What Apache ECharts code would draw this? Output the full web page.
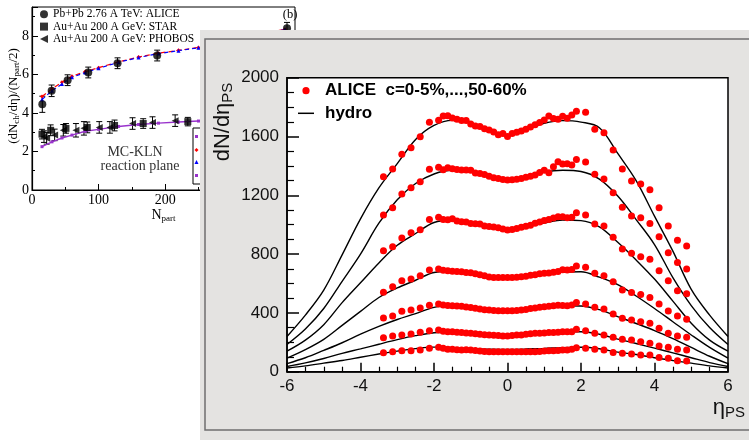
<!DOCTYPE html>
<html>
<head>
<meta charset="utf-8">
<script src="https://cdn.jsdelivr.net/npm/echarts/dist/echarts.min.js"></script>
<style>
  html, body { margin: 0; padding: 0; background: #fff; }
  #left { position: absolute; left: 0; top: 0; width: 749px; height: 440px; }
  #main { position: absolute; left: 200px; top: 30px; width: 549px; height: 410px; }
</style>
</head>
<body>
<div id="left"></div>
<div id="main"></div>
<script>
// ---------- main panel: ALICE dN/deta vs eta ----------
const etaPoints = [-3.375, -3.125, -2.875, -2.625, -2.375, -2.125, -1.875,
  -1.75, -1.625, -1.5, -1.375, -1.25, -1.125, -1.0, -0.875, -0.75, -0.625,
  -0.5, -0.375, -0.25, -0.125, 0, 0.125, 0.25, 0.375, 0.5, 0.625, 0.75,
  0.875, 1.0, 1.125, 1.25, 1.375, 1.5, 1.625, 1.75,
  1.875, 2.125, 2.375, 2.625, 2.875, 3.125, 3.375, 3.625, 3.875, 4.125, 4.375, 4.625, 4.875];

const alice0_5 = [1327, 1379, 1479, 1524, 1599, 1697, 1710,
  1740, 1742, 1726, 1718, 1708, 1708, 1685, 1672, 1668, 1652, 1644, 1630, 1612, 1620,
  1600, 1620, 1629, 1638, 1650, 1665, 1680, 1695, 1712, 1740, 1722, 1718, 1738, 1724, 1746,
  1771, 1765, 1649, 1626, 1508, 1379, 1297, 1277, 1238, 1116, 991, 894, 855];
const alice5_10 = [1066, 1116, 1209, 1252, 1293, 1377, 1390,
  1374, 1388, 1380, 1375, 1372, 1372, 1370, 1352, 1348, 1342, 1330, 1320, 1314, 1308,
  1304, 1305, 1309, 1315, 1322, 1330, 1338, 1355, 1370, 1354, 1395, 1428, 1413, 1415, 1406,
  1444, 1426, 1343, 1311, 1218, 1118, 1059, 1048, 1009, 918, 810, 743, 699];
const alice10_20 = [823, 850, 909, 946, 966, 1035, 1050,
  1035, 1034, 1040, 1025, 1020, 1018, 1009, 1006, 1004, 991, 988, 984, 980, 970,
  964, 968, 975, 982, 990, 996, 1010, 1018, 1028, 1036, 1045, 1054, 1054, 1048, 1050,
  1082, 1066, 1005, 991, 914, 835, 805, 782, 765, 687, 619, 550, 531];
const alice20_30 = [540, 578, 619, 631, 653, 692, 698,
  690, 686, 684, 682, 680, 675, 673, 666, 660, 652, 645, 641, 640, 640,
  640, 641, 643, 646, 650, 656, 660, 666, 670, 672, 676, 682, 694, 692, 696,
  719, 710, 669, 653, 612, 556, 538, 526, 504, 460, 413, 379, 356];
const alice30_40 = [365, 379, 411, 420, 433, 452, 460,
  454, 451, 449, 447, 445, 440, 437, 432, 427, 422, 419, 416, 415, 415,
  415, 415, 416, 420, 423, 430, 433, 438, 441, 445, 448, 452, 450, 449, 454,
  470, 461, 438, 427, 392, 363, 352, 340, 329, 295, 261, 243, 234];
const alice40_50 = [231, 243, 250, 256, 268, 279, 284,
  276, 272, 271, 268, 266, 263, 261, 258, 254, 251, 250, 248, 246, 243,
  243, 246, 250, 250, 254, 258, 261, 262, 264, 266, 267, 268, 272, 272, 272,
  288, 279, 261, 250, 234, 220, 216, 204, 193, 175, 166, 152, 148];
const alice50_60 = [129, 136, 143, 143, 148, 159, 166,
  160, 152, 152, 150, 148, 150, 148, 145, 141, 138, 136, 136, 136, 136,
  136, 136, 136, 136, 136, 136, 136, 137, 140, 143, 143, 145, 148, 148, 152,
  163, 159, 152, 148, 130, 125, 121, 114, 114, 96, 91, 75, 73];

const hydroEta = [-6, -5.5, -5, -4.5, -4, -3.5, -3, -2.5, -2, -1.5, -1, -0.5, 0,
  0.5, 1, 1.5, 2, 2.5, 3, 3.5, 4, 4.5, 5, 5.5, 6];
const hydro0_5 = [240, 385, 555, 795, 1040, 1250, 1415, 1580, 1675, 1710, 1692, 1645, 1612,
  1645, 1690, 1708, 1698, 1660, 1485, 1300, 1058, 820, 560, 385, 240];
const hydro5_10 = [185, 290, 430, 615, 800, 1010, 1170, 1280, 1345, 1370, 1360, 1325, 1300,
  1325, 1358, 1370, 1362, 1310, 1195, 1035, 865, 640, 450, 300, 185];
const hydro10_20 = [140, 215, 320, 470, 605, 740, 860, 940, 1015, 1030, 1015, 990, 970,
  988, 1012, 1032, 1028, 985, 880, 760, 630, 480, 330, 215, 140];
const hydro20_30 = [92, 150, 220, 315, 410, 505, 570, 622, 675, 683, 668, 648, 640,
  647, 664, 678, 680, 643, 592, 515, 430, 340, 250, 165, 92];
const hydro30_40 = [55, 95, 145, 197, 255, 308, 355, 395, 438, 448, 440, 426, 418,
  426, 440, 448, 447, 422, 375, 328, 280, 225, 165, 105, 55];
const hydro40_50 = [35, 60, 90, 125, 155, 187, 218, 245, 265, 270, 265, 255, 250,
  255, 265, 272, 272, 255, 222, 192, 160, 128, 95, 62, 35];
const hydro50_60 = [25, 40, 58, 76, 98, 120, 140, 157, 167, 163, 157, 153, 152,
  154, 158, 164, 166, 156, 133, 117, 95, 76, 58, 40, 25];

const aliceSets = [alice0_5, alice5_10, alice10_20, alice20_30, alice30_40, alice40_50, alice50_60];
const hydroSets = [hydro0_5, hydro5_10, hydro10_20, hydro20_30, hydro30_40, hydro40_50, hydro50_60];

// ---------- background panel (b): ratio vs Npart ----------
const aliceNpart = [15.5, 29.5, 53.5, 84.5, 128.5, 188, 260, 329, 383];
const aliceRatio = [4.45, 5.15, 5.7, 6.1, 6.58, 6.98, 7.4, 7.9, 8.4];
const aliceErr = [0.42, 0.3, 0.28, 0.28, 0.28, 0.28, 0.28, 0.3, 0.3];
const starNpart = [15, 28, 51, 83, 124, 167, 234];
const starRatio = [2.9, 3.1, 3.2, 3.25, 3.35, 3.45, 3.55];
const starErr = [0.25, 0.28, 0.25, 0.28, 0.28, 0.25, 0.22];
const phobosNpart = [18, 22, 34, 47, 66, 78, 101, 117, 151, 181, 215];
const phobosRatio = [2.77, 2.68, 2.86, 3.1, 3.1, 3.2, 3.25, 3.25, 3.45, 3.5, 3.6];
const phobosErr = [0.3, 0.3, 0.3, 0.3, 0.35, 0.35, 0.3, 0.3, 0.3, 0.3, 0.3];
const klnNpart = [15, 30, 45, 60, 80, 100, 130, 160, 190, 220, 250, 290, 330, 380];
const klnLhcRed = [4.85, 5.25, 5.6, 5.9, 6.15, 6.35, 6.65, 6.9, 7.1, 7.25, 7.4, 7.7, 8.0, 8.35];
const klnLhcBlue = [4.7, 5.15, 5.5, 5.85, 6.1, 6.32, 6.63, 6.88, 7.08, 7.23, 7.38, 7.68, 7.98, 8.33];
const klnRhic = [2.25, 2.5, 2.7, 2.85, 3.05, 3.15, 3.3, 3.4, 3.47, 3.53, 3.58, 3.64, 3.7, 3.75];

const pairs = (xs, ys) => xs.map((x, i) => [x, ys[i]]);
const SANS = 'Liberation Sans, Arial, sans-serif';
const SERIF = 'Liberation Serif, Times New Roman, serif';
const leftTri = 'path://M0,5L10,0L10,10Z';

function errorBars(xs, ys, es) {
  return {
    type: 'custom',
    encode: { x: 0, y: 1 },
    z: 3,
    silent: true,
    data: xs.map((x, i) => [x, ys[i], es[i]]),
    renderItem: function (params, api) {
      const x = api.value(0), y = api.value(1), e = api.value(2);
      const a = api.coord([x, y + e]), b = api.coord([x, y - e]);
      const st = { stroke: '#000', lineWidth: 1 };
      return {
        type: 'group',
        children: [
          { type: 'line', shape: { x1: a[0], y1: a[1], x2: b[0], y2: b[1] }, style: st },
          { type: 'line', shape: { x1: a[0] - 3, y1: a[1], x2: a[0] + 3, y2: a[1] }, style: st },
          { type: 'line', shape: { x1: b[0] - 3, y1: b[1], x2: b[0] + 3, y2: b[1] }, style: st }
        ]
      };
    }
  };
}

const leftChart = echarts.init(document.getElementById('left'));
leftChart.setOption({
  backgroundColor: '#fff',
  animation: false,
  grid: { left: 32, top: 7, width: 263, height: 183, show: true, borderColor: '#000', borderWidth: 1 },
  legend: {
    orient: 'vertical', left: 40, top: 8, padding: 0, itemWidth: 8, itemHeight: 8, itemGap: 0,
    textStyle: { fontFamily: SERIF, fontSize: 11.5, lineHeight: 12.4, color: '#000' },
    data: [
      { name: 'Pb+Pb 2.76 A TeV: ALICE', icon: 'circle' },
      { name: 'Au+Au 200 A GeV: STAR', icon: 'rect' },
      { name: 'Au+Au 200 A GeV: PHOBOS', icon: leftTri }
    ]
  },
  xAxis: {
    type: 'value', min: 0, max: 395, interval: 100,
    name: 'N{s|part}', nameLocation: 'middle', nameGap: 13,
    nameTextStyle: { fontFamily: SERIF, fontSize: 14, color: '#000', rich: { s: { fontSize: 9, padding: [7, 0, 0, 0], verticalAlign: 'bottom' } } },
    axisLine: { onZero: false, lineStyle: { color: '#000', width: 1.2 } },
    axisTick: { inside: true, length: 6, lineStyle: { color: '#000' } },
    minorTick: { show: true, splitNumber: 2, length: 3, lineStyle: { color: '#000' } },
    splitLine: { show: false },
    axisLabel: { fontFamily: SERIF, fontSize: 14, color: '#000', margin: 3, showMaxLabel: false }
  },
  yAxis: {
    type: 'value', min: 0, max: 9.5, interval: 2,
    axisLine: { onZero: false, lineStyle: { color: '#000', width: 1.2 } },
    axisTick: { inside: true, length: 6, lineStyle: { color: '#000' } },
    minorTick: { show: true, splitNumber: 2, length: 3, lineStyle: { color: '#000' } },
    splitLine: { show: false },
    axisLabel: { fontFamily: SERIF, fontSize: 14, color: '#000', margin: 3, showMaxLabel: false }
  },
  graphic: [
    { type: 'text', x: 290, y: 15, style: { text: '(b)', fontFamily: SERIF, fontSize: 12.5, fill: '#000', align: 'center', verticalAlign: 'middle' } },
    { type: 'text', x: 135, y: 152, style: { text: 'MC-KLN', fontFamily: SERIF, fontSize: 14, fill: '#333', align: 'center', verticalAlign: 'middle' } },
    { type: 'text', x: 140, y: 166, style: { text: 'reaction plane', fontFamily: SERIF, fontSize: 14, fill: '#333', align: 'center', verticalAlign: 'middle' } },
    {
      type: 'text', x: 14, y: 96, rotation: Math.PI / 2,
      style: {
        text: '(dN{s|ch}/dη)/(N{s|part}/2)', fontFamily: SERIF, fontSize: 13, fill: '#000',
        align: 'center', verticalAlign: 'middle',
        rich: { s: { fontFamily: SERIF, fontSize: 9, padding: [6, 0, 0, 0], verticalAlign: 'bottom' } }
      }
    },
    { type: 'rect', shape: { x: 193, y: 128, width: 100, height: 56 }, style: { fill: '#fff', stroke: '#000', lineWidth: 1 } },
    { type: 'rect', shape: { x: 195, y: 135, width: 3, height: 3 }, style: { fill: '#9933cc' } },
    { type: 'polygon', shape: { points: [[196.5, 148], [198.5, 150], [196.5, 152], [194.5, 150]] }, style: { fill: '#ff0000' } },
    { type: 'polygon', shape: { points: [[196.5, 160], [198.5, 164], [194.5, 164]] }, style: { fill: '#0000ff' } },
    { type: 'rect', shape: { x: 195, y: 174, width: 3, height: 3 }, style: { fill: '#9933cc' } }
  ],
  series: [
    { type: 'line', data: pairs(klnNpart, klnLhcRed), symbol: 'diamond', symbolSize: 4, itemStyle: { color: '#ff0000' }, lineStyle: { color: '#ff0000', width: 1.2, type: [5, 3] } },
    { type: 'line', data: pairs(klnNpart, klnLhcBlue), symbol: 'triangle', symbolSize: 4, itemStyle: { color: '#0000ff' }, lineStyle: { color: '#0000ff', width: 1.2, type: [4, 3] } },
    { type: 'line', data: pairs(klnNpart, klnRhic), symbol: 'rect', symbolSize: 3, itemStyle: { color: '#9933cc' }, lineStyle: { color: '#9933cc', width: 1.4 } },
    errorBars(aliceNpart, aliceRatio, aliceErr),
    errorBars(starNpart, starRatio, starErr),
    errorBars(phobosNpart, phobosRatio, phobosErr),
    { type: 'scatter', name: 'Pb+Pb 2.76 A TeV: ALICE', data: pairs(aliceNpart, aliceRatio), symbol: 'circle', symbolSize: 8, itemStyle: { color: '#000' }, z: 4 },
    { type: 'scatter', name: 'Au+Au 200 A GeV: STAR', data: pairs(starNpart, starRatio), symbol: 'rect', symbolSize: 7, itemStyle: { color: '#000' }, z: 4 },
    { type: 'scatter', name: 'Au+Au 200 A GeV: PHOBOS', data: pairs(phobosNpart, phobosRatio), symbol: leftTri, symbolSize: 7, itemStyle: { color: '#000' }, z: 4 }
  ]
});

// ---------- front panel ----------
const ALICE_NAME = 'ALICE  c=0-5%,...,50-60%';
const mainSeries = [];
hydroSets.forEach(function (vals) {
  mainSeries.push({
    type: 'line', name: 'hydro', data: pairs(hydroEta, vals), smooth: 0.35,
    symbol: 'none', itemStyle: { color: '#000' }, lineStyle: { color: '#000', width: 1.4 }, z: 2
  });
});
aliceSets.forEach(function (vals) {
  mainSeries.push({
    type: 'scatter', name: ALICE_NAME, data: pairs(etaPoints, vals),
    symbol: 'circle', symbolSize: 7, itemStyle: { color: '#ff0000', opacity: 1 }, z: 3
  });
});

const legendFont = { fontFamily: SANS, fontWeight: 'bold', fontSize: 17, fill: '#000', verticalAlign: 'middle' };
const mainChart = echarts.init(document.getElementById('main'));
mainChart.setOption({
  backgroundColor: '#e4e3e1',
  animation: false,
  grid: { left: 87, top: 47.7, right: 21, bottom: 68.3, show: true, backgroundColor: '#fff', borderColor: '#000', borderWidth: 1.5 },
  xAxis: {
    type: 'value', min: -6, max: 6, interval: 2,
    axisLine: { onZero: false, lineStyle: { color: '#000', width: 1.5 } },
    axisTick: { inside: true, length: 9, lineStyle: { color: '#000', width: 1.5 } },
    minorTick: { show: true, splitNumber: 4, length: 5, lineStyle: { color: '#000', width: 1.2 } },
    splitLine: { show: false },
    axisLabel: { fontFamily: SANS, fontSize: 17, color: '#111', margin: 6 }
  },
  yAxis: {
    type: 'value', min: 0, max: 2000, interval: 400,
    axisLine: { onZero: false, lineStyle: { color: '#000', width: 1.5 } },
    axisTick: { inside: true, length: 12, lineStyle: { color: '#000', width: 1.5 } },
    minorTick: { show: true, splitNumber: 4, length: 7, lineStyle: { color: '#000', width: 1.2 } },
    splitLine: { show: false },
    axisLabel: { fontFamily: SANS, fontSize: 17, color: '#111', margin: 8, formatter: v => String(v) }
  },
  graphic: [
    { type: 'rect', silent: true, shape: { x: 5, y: 9, width: 600, height: 391 }, style: { fill: 'none', stroke: '#6f6f6f', lineWidth: 1.5 } },
    {
      type: 'text', x: 23, y: 92, rotation: Math.PI / 2,
      style: {
        text: 'dN/dη{s|PS}', fontFamily: SANS, fontSize: 22, fill: '#111',
        align: 'center', verticalAlign: 'middle',
        rich: { s: { fontFamily: SANS, fontSize: 15, padding: [9, 0, 0, 0], verticalAlign: 'bottom' } }
      }
    },
    {
      type: 'text', x: 545, y: 378,
      style: {
        text: 'η{s|PS}', fontFamily: SANS, fontSize: 22, fill: '#111',
        align: 'right', verticalAlign: 'middle',
        rich: { s: { fontFamily: SANS, fontSize: 15, padding: [9, 0, 0, 0], verticalAlign: 'bottom' } }
      }
    },
    // legend
    { type: 'circle', z: 10, shape: { cx: 106, cy: 60.7, r: 3.6 }, style: { fill: '#ff0000' } },
    { type: 'text', z: 10, x: 125, y: 60.7, style: Object.assign({ text: ALICE_NAME }, legendFont) },
    { type: 'line', z: 10, shape: { x1: 98, y1: 83.3, x2: 114, y2: 83.3 }, style: { stroke: '#000', lineWidth: 1.5 } },
    { type: 'text', z: 10, x: 125, y: 83.3, style: Object.assign({ text: 'hydro' }, legendFont) }
  ],
  series: mainSeries
});
</script>
</body>
</html>
